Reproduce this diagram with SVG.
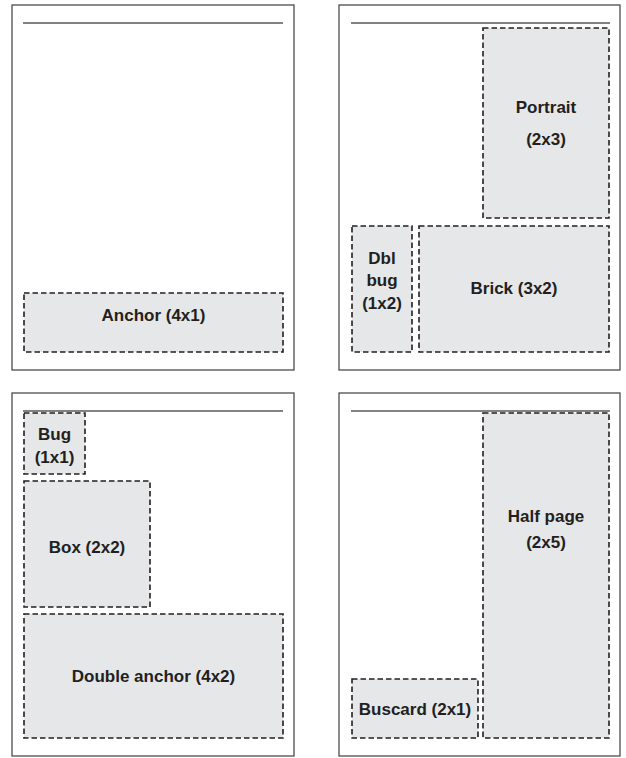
<svg xmlns="http://www.w3.org/2000/svg" width="626" height="758" viewBox="0 0 626 758">
<style>
.page{fill:#fff;stroke:#4d4d4f;stroke-width:1.3}
.rule{stroke:#58595b;stroke-width:1.5}
.ad{fill:#e6e7e8;stroke:#231f20;stroke-width:1.6;stroke-dasharray:5.5 3}
.t{font-family:"Liberation Sans",Arial,sans-serif;font-weight:bold;font-size:17px;fill:#231f20;text-anchor:middle}
</style>
<rect width="626" height="758" fill="#fff"/>
<g id="page1">
<rect class="page" x="12" y="5" width="282" height="365"/>
<line class="rule" x1="23" y1="23" x2="283" y2="23"/>
</g>
<g id="page2">
<rect class="page" x="339" y="5" width="281" height="365"/>
<line class="rule" x1="351" y1="23" x2="610" y2="23"/>
</g>
<g id="page3">
<rect class="page" x="12" y="393" width="282" height="363"/>
<line class="rule" x1="23" y1="411" x2="283" y2="411"/>
</g>
<g id="page4">
<rect class="page" x="339" y="393" width="281" height="363"/>
<line class="rule" x1="351" y1="411" x2="610" y2="411"/>
</g>
<g id="anchor">
<rect class="ad" x="24" y="293" width="259" height="59"/>
<text class="t" x="153.5" y="321">Anchor (4x1)</text>
</g>
<g id="portrait">
<rect class="ad" x="483" y="28" width="126" height="190"/>
<text class="t" x="546" y="113">Portrait</text>
<text class="t" x="546" y="145">(2x3)</text>
</g>
<g id="dblbug">
<rect class="ad" x="352" y="226" width="60" height="126"/>
<text class="t" x="382" y="264">Dbl</text>
<text class="t" x="382" y="286">bug</text>
<text class="t" x="382" y="309">(1x2)</text>
</g>
<g id="brick">
<rect class="ad" x="419" y="226" width="190" height="126"/>
<text class="t" x="514" y="294">Brick (3x2)</text>
</g>
<g id="bug">
<rect class="ad" x="24" y="413" width="61" height="61"/>
<text class="t" x="54.5" y="440">Bug</text>
<text class="t" x="54.5" y="463">(1x1)</text>
</g>
<g id="box">
<rect class="ad" x="24" y="481" width="126" height="126"/>
<text class="t" x="87" y="553">Box (2x2)</text>
</g>
<g id="doubleanchor">
<rect class="ad" x="24" y="614" width="259" height="124"/>
<text class="t" x="153.5" y="681.5">Double anchor (4x2)</text>
</g>
<g id="halfpage">
<rect class="ad" x="483" y="413" width="126" height="325"/>
<text class="t" x="546" y="522">Half page</text>
<text class="t" x="546" y="548">(2x5)</text>
</g>
<g id="buscard">
<rect class="ad" x="352" y="679" width="126" height="59"/>
<text class="t" x="415" y="715">Buscard (2x1)</text>
</g>
<g id="connectors"/>
</svg>
